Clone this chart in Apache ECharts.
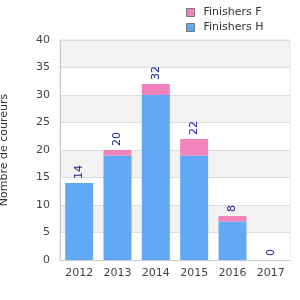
<!DOCTYPE html>
<html>
<head>
<meta charset="utf-8">
<script src="https://cdn.jsdelivr.net/npm/echarts@6/dist/echarts.min.js"></script>
<style>
  html, body { margin: 0; padding: 0; background: #fff; }
  #chart { width: 300px; height: 300px; }
</style>
</head>
<body>
<div id="chart"></div>
<script>
const years = ['2012', '2013', '2014', '2015', '2016', '2017'];
const finishersH = [14, 19, 30, 19, 7, 0];
const finishersF = [0, 1, 2, 3, 1, 0];
const totals = [14, 20, 32, 22, 8, 0];

const chart = echarts.init(document.getElementById('chart'));
chart.setOption({
  animation: false,
  textStyle: { fontFamily: 'DejaVu Sans', color: '#444' },
  legend: {
    orient: 'vertical',
    left: 181,
    top: 2,
    icon: 'rect',
    itemWidth: 8,
    itemHeight: 8,
    itemGap: 4,
    data: [
      { name: 'Finishers F', itemStyle: { borderColor: '#777', borderWidth: 1 } },
      { name: 'Finishers H', itemStyle: { borderColor: '#777', borderWidth: 1 } },
    ],
    textStyle: { fontSize: 11, color: '#333', padding: [0, 0, 0, 4] },
  },
  grid: {
    left: 60,
    right: 10,
    top: 40,
    bottom: 40,
    outerBoundsMode: 'none',
    show: true,
    borderColor: '#ddd',
    borderWidth: 1,
  },
  xAxis: {
    type: 'category',
    data: years,
    axisLine: { lineStyle: { color: '#ccc' } },
    axisTick: { show: false },
    axisLabel: { fontSize: 11, color: '#444', margin: 8 },
  },
  yAxis: {
    type: 'value',
    min: 0,
    max: 40,
    interval: 5,
    name: 'Nombre de coureurs',
    nameLocation: 'middle',
    nameGap: 50,
    nameTextStyle: { fontSize: 11, color: '#333' },
    axisLine: { show: true, lineStyle: { color: '#ccc' } },
    axisTick: { show: false },
    axisLabel: { fontSize: 11, color: '#444', margin: 10 },
    splitLine: { lineStyle: { color: '#ddd' } },
    splitArea: { show: true, areaStyle: { color: ['#fff', '#f2f2f2'] } },
  },
  series: [
    {
      name: 'Finishers H',
      type: 'bar',
      stack: 'total',
      barWidth: '73%',
      itemStyle: { color: '#62a9f5' },
      data: finishersH,
    },
    {
      name: 'Finishers F',
      type: 'bar',
      stack: 'total',
      barWidth: '73%',
      itemStyle: { color: '#f083bb' },
      label: {
        show: true,
        position: 'top',
        rotate: 90,
        align: 'left',
        verticalAlign: 'middle',
        distance: 4,
        color: '#1a1a9c',
        fontSize: 11,
        formatter: (p) => String(totals[p.dataIndex]),
      },
      data: finishersF,
    },
  ],
});
</script>
</body>
</html>
